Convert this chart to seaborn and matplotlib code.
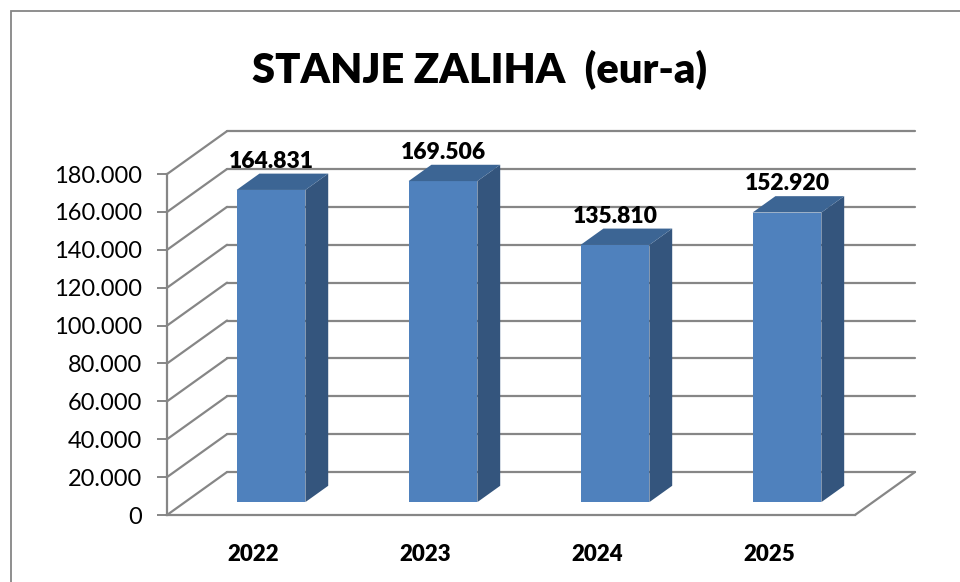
import numpy as np
import pandas as pd
import seaborn as sns
import matplotlib.pyplot as plt
from matplotlib.patches import Polygon, Rectangle

sns.set_theme(style="white")
plt.rcParams['font.family'] = ['Lato', 'DejaVu Sans']
plt.rcParams['text.color'] = 'black'
plt.rcParams['xtick.color'] = 'black'
plt.rcParams['ytick.color'] = 'black'

years = ['2022', '2023', '2024', '2025']
values = [164831, 169506, 135810, 152920]
y_ticks = [0, 20000, 40000, 60000, 80000, 100000, 120000, 140000, 160000, 180000]

FRONT = '#4F81BD'
SIDE = '#34557D'
TOP = '#3C6594'
GRID = '#868686'

# oblique "3D" offsets of the back wall, in data units
DX = 0.349
DY = 22700
D0 = 0.30   # depth of bar front face
BD = 0.38   # bar depth


def fmt(v):
    return f"{v:,}".replace(",", ".")


df = pd.DataFrame({'year': years, 'value': values})

fig = plt.figure(figsize=(9.6, 5.82), dpi=100)
ax = fig.add_axes([167 / 960, 1 - 515 / 582, (915 - 167) / 960, (515 - 130) / 582])

sns.barplot(data=df, x='year', y='value', color=FRONT, saturation=1, width=0.4,
            ax=ax, zorder=3, edgecolor=FRONT, linewidth=0)

# gridlines: diagonal on left side wall + horizontal on back wall
for v in y_ticks:
    ax.plot([-0.5, -0.5 + DX], [v, v + DY], color=GRID, lw=1.6, zorder=1, clip_on=False)
    ax.plot([-0.5 + DX, 3.5 + DX], [v + DY, v + DY], color=GRID, lw=1.6, zorder=1, clip_on=False)
ax.plot([3.5, 3.5 + DX], [0, DY], color=GRID, lw=1.6, zorder=1, clip_on=False)

# shift bars into depth and add side/top faces
for patch, v in zip(ax.patches, values):
    x0 = patch.get_x() + D0 * DX
    w = patch.get_width()
    y0 = D0 * DY
    patch.set_x(x0)
    patch.set_y(y0)
    patch.set_height(v)
    x1 = x0 + w
    top = y0 + v
    side = Polygon([(x1, y0), (x1 + BD * DX, y0 + BD * DY),
                    (x1 + BD * DX, top + BD * DY), (x1, top)],
                   closed=True, facecolor=SIDE, edgecolor='none', zorder=3)
    lid = Polygon([(x0, top), (x1, top), (x1 + BD * DX, top + BD * DY),
                   (x0 + BD * DX, top + BD * DY)],
                  closed=True, facecolor=TOP, edgecolor='none', zorder=3)
    ax.add_patch(side)
    ax.add_patch(lid)
    ax.text(x0 + w / 2, top + BD * DY + 1000, fmt(v), ha='center', va='bottom',
            fontsize=16.5, fontweight='heavy', color='black', zorder=5)

ax.set_xlim(-0.5, 3.5 + DX)
ax.set_ylim(0, 203300)
ax.set_yticks(y_ticks)
ax.set_yticklabels([fmt(v) for v in y_ticks], fontsize=17)
ax.set_xticks(range(len(years)))
ax.set_xticklabels(years, fontsize=16, fontweight='heavy')
ax.set_xticks([-0.5, 0.5, 1.5, 2.5, 3.5], minor=True)
ax.tick_params(axis='x', which='major', length=0, pad=21)
ax.tick_params(axis='x', which='minor', length=6, width=1.4, color=GRID, direction='out')
ax.tick_params(axis='y', length=7, width=1.4, color=GRID, labelcolor='black',
               direction='out', pad=11, left=True)
ax.set_xlabel('')
ax.set_ylabel('')

for s in ['top', 'right']:
    ax.spines[s].set_visible(False)
ax.spines['left'].set_bounds(0, 180000)
ax.spines['bottom'].set_bounds(-0.5, 3.5)
for s in ['left', 'bottom']:
    ax.spines[s].set_color(GRID)
    ax.spines[s].set_linewidth(1.6)

fig.text(0.5, 1 - 70 / 582, 'STANJE ZALIHA  (eur-a)', ha='center', va='center',
         fontsize=30, fontweight='heavy', color='black')

# outer chart frame (runs off the right and bottom edges)
fig.patches.append(Rectangle((11 / 960, -0.05), 1.0, 1 - 11 / 582 + 0.05,
                             transform=fig.transFigure, fill=False,
                             edgecolor=GRID, linewidth=1.3))

fig.savefig('out.png', dpi=100)
